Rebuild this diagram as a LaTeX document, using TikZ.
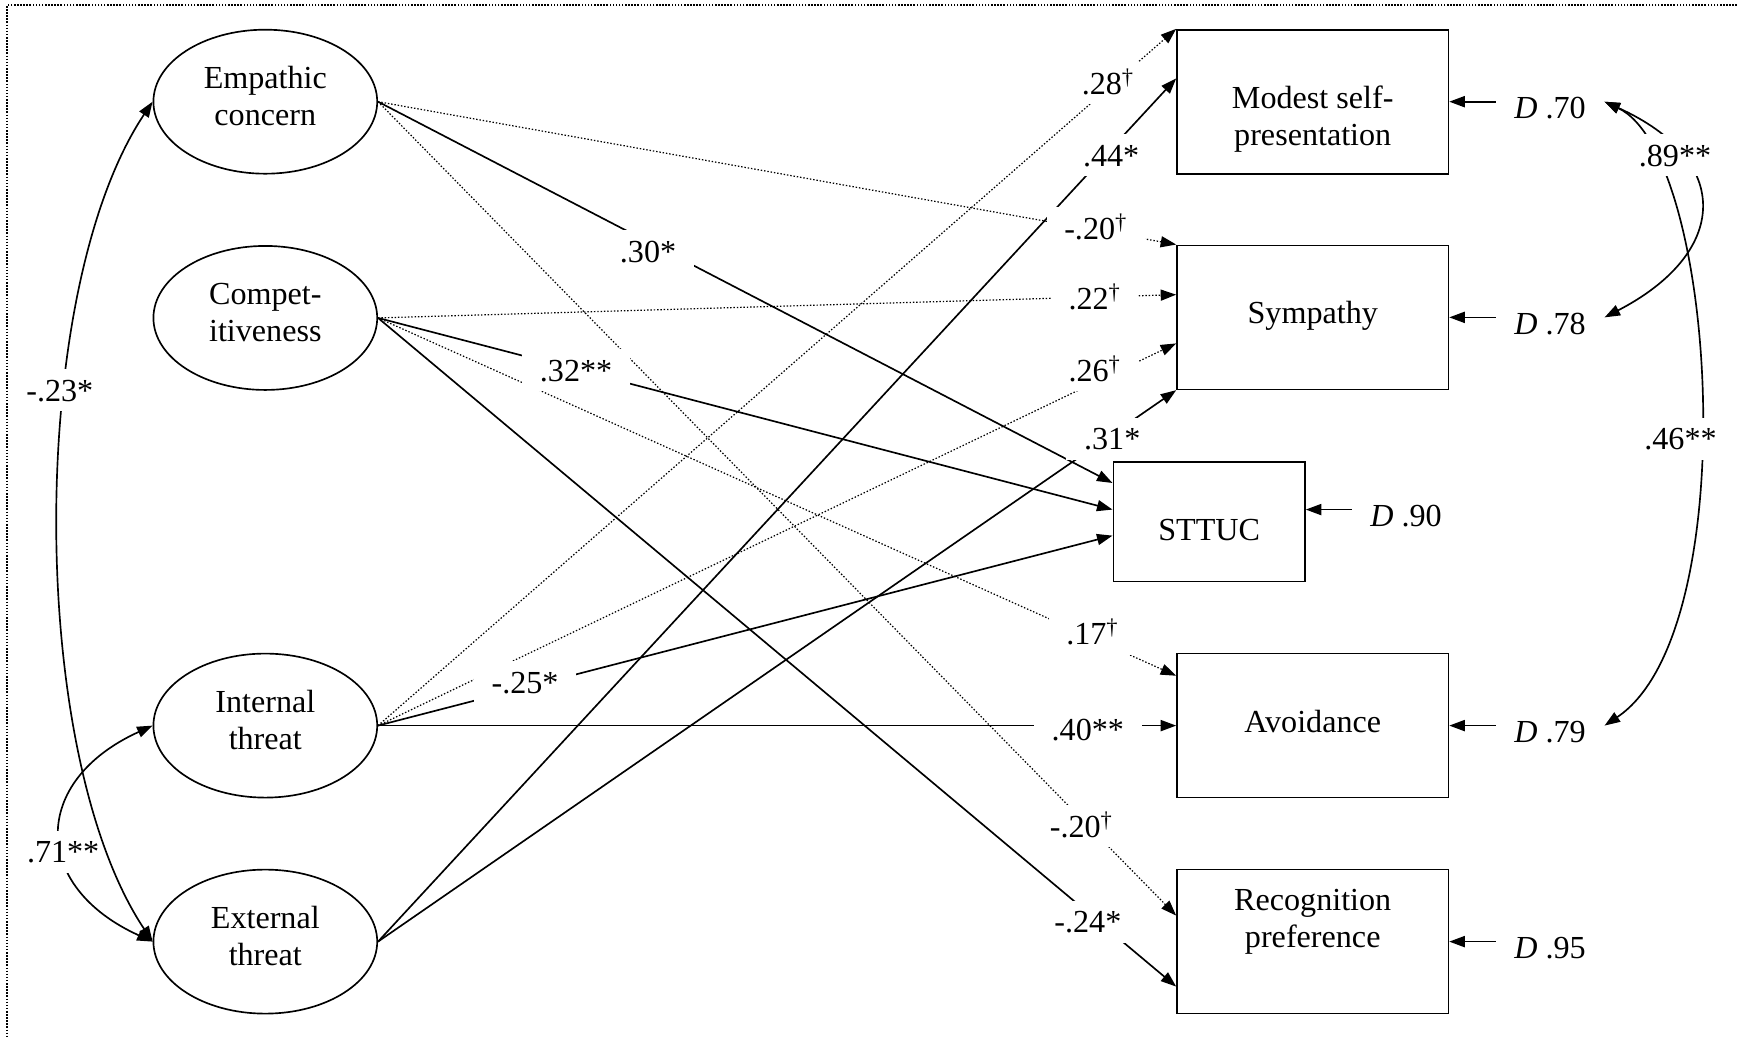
\documentclass[tikz,border=0pt]{standalone}
\usepackage{fontspec}
\setmainfont{Liberation Serif}
\usetikzlibrary{arrows.meta,shapes.geometric}

\begin{document}
\begin{tikzpicture}[x=1pt,y=-1pt,
  every node/.style={font=\fontsize{29}{33}\selectfont},
  latent/.style={draw, ellipse, line width=1.5pt, minimum width=202pt, minimum height=130pt, inner sep=0pt},
  obsbox/.style={draw, rectangle, line width=1.5pt, minimum width=245pt, minimum height=130pt, inner sep=0pt},
  boxtext/.style={align=center, inner sep=0pt},
  tip/.style={-{Triangle[length=14pt,width=10pt]}},
  sig/.style={line width=1.5pt, tip},
  nsig/.style={line width=1.1pt, dash pattern=on 1.3pt off 1.7pt, tip},
  cov/.style={line width=1.5pt, {Triangle[length=14pt,width=10pt]}-{Triangle[length=14pt,width=10pt]}},
  coef/.style={fill=white, inner xsep=16pt, inner ysep=8pt, text height=21pt, text depth=1pt},
  sidecoef/.style={coef, inner xsep=5pt},
  dlab/.style={anchor=west, inner sep=0pt, outer xsep=17pt, text height=31pt, text depth=0pt},
]
\useasboundingbox (0,0) rectangle (1568,936);

% frame (top and left edges)
\draw[line width=1.4pt, dash pattern=on 1.4pt off 1.4pt] (1568,4.5) -- (6.5,4.5) -- (6.5,936);

% predictors
\node[latent] (emp)  at (239.5,91.8) {};
\node[boxtext] (empT) at (239.5,86.8) {Empathic\\concern};
\node[latent] (comp) at (239.5,287)  {};
\node[boxtext] (compT) at (239.5,282) {Compet-\\itiveness};
\node[latent] (int)  at (239.5,655)  {};
\node[boxtext] (intT) at (239.5,650) {Internal\\threat};
\node[latent] (ext)  at (239.5,850)  {};
\node[boxtext] (extT) at (239.5,845) {External\\threat};

% outcomes
\node[obsbox] (modest) at (1185,91.8) {};
\node[boxtext] (modestT) at (1185,107.5) {Modest self-\\presentation};
\node[obsbox] (sym) at (1185,286.5) {};
\node[boxtext] (symT) at (1185,285) {Sympathy};
\node[draw, rectangle, line width=1.5pt, minimum width=173pt, minimum height=108pt, inner sep=0pt] (sttuc) at (1091.5,471) {};
\node[boxtext] (sttucT) at (1091.5,478) {STTUC};
\node[obsbox] (avo) at (1185,655) {};
\node[boxtext] (avoT) at (1185,651) {Avoidance};
\node[obsbox] (rec) at (1185,850) {};
\node[boxtext] (recT) at (1185,832) {Recognition\\preference};

% disturbances
\node[dlab] (d70) at (1350,91.8)  {\textit{D} .70};
\node[dlab] (d78) at (1350,286.5) {\textit{D} .78};
\node[dlab] (d90) at (1220,460)   {\textit{D} .90};
\node[dlab] (d79) at (1350,655)   {\textit{D} .79};
\node[dlab] (d95) at (1350,850)   {\textit{D} .95};
\draw[sig] (d70.west) -- (modest.east);
\draw[sig] (d78.west) -- (sym.east);
\draw[sig] (d90.west) -- ([yshift=11pt]sttuc.east);
\draw[sig] (d79.west) -- (avo.east);
\draw[sig] (d95.west) -- (rec.east);

% paths
\draw[sig]  (emp.east) -- ([yshift=35pt]sttuc.west);
\draw[nsig] (emp.east) -- (sym.north west);
\draw[nsig] (emp.east) -- ([yshift=23.5pt]rec.west);
\draw[nsig] (comp.east) -- ([yshift=20.5pt]sym.west);
\draw[sig]  (comp.east) -- ([yshift=11pt]sttuc.west);
\draw[nsig] (comp.east) -- ([yshift=45pt]avo.west);
\draw[sig]  (comp.east) -- ([yshift=-40.6pt]rec.west);
\draw[nsig] (int.east) -- (modest.north west);
\draw[nsig] (int.east) -- ([yshift=-23.5pt]sym.west);
\draw[sig]  (int.east) -- ([yshift=-12.5pt]sttuc.west);
\draw[sig]  (int.east) -- (avo.west);
\draw[sig]  (ext.east) -- ([yshift=21pt]modest.west);
\draw[sig]  (ext.east) -- (sym.south west);

% path coefficients
\node[coef] (l30)  at (585,227)  {.30*};
\node[coef] (l20a) at (989,206)  {-.20\textsuperscript{\textdagger}};
\node[coef] (l20b) at (976,746)  {-.20\textsuperscript{\textdagger}};
\node[coef] (l22)  at (988,269)  {.22\textsuperscript{\textdagger}};
\node[coef] (l32)  at (520,334)  {.32**};
\node[coef] (l17)  at (986,572)  {.17\textsuperscript{\textdagger}};
\node[coef] (l24)  at (982,832)  {-.24*};
\node[coef] (l28)  at (1000,75)  {.28\textsuperscript{\textdagger}};
\node[coef] (l26)  at (988,334)  {.26\textsuperscript{\textdagger}};
\node[coef] (l25)  at (474,616)  {-.25*};
\node[coef] (l40)  at (982,658)  {.40**};
\node[coef] (l44)  at (1003,140) {.44*};
\node[coef] (l31)  at (1004,396) {.31*};

% disturbance covariances
\draw[cov] (d70.east) .. controls +(117,53) and +(112,-58) .. (d78.east);
\draw[cov] (d70.east) .. controls +(102,48) and +(127,-85) .. (d79.east);
\node[sidecoef] (c89) at (1512,140) {.89**};
\node[sidecoef] (c46) at (1517,396) {.46**};

% predictor covariances
\draw[cov] (int.west) .. controls +(-110,50) and +(-110,-50) .. (ext.west);
\node[sidecoef] (c71) at (57,769) {.71**};
\draw[cov] (emp.west) .. controls +(-113.5,170) and +(-113.5,-170) .. (ext.west);
\node[sidecoef] (c23) at (54,352) {-.23*};
\end{tikzpicture}
\end{document}
